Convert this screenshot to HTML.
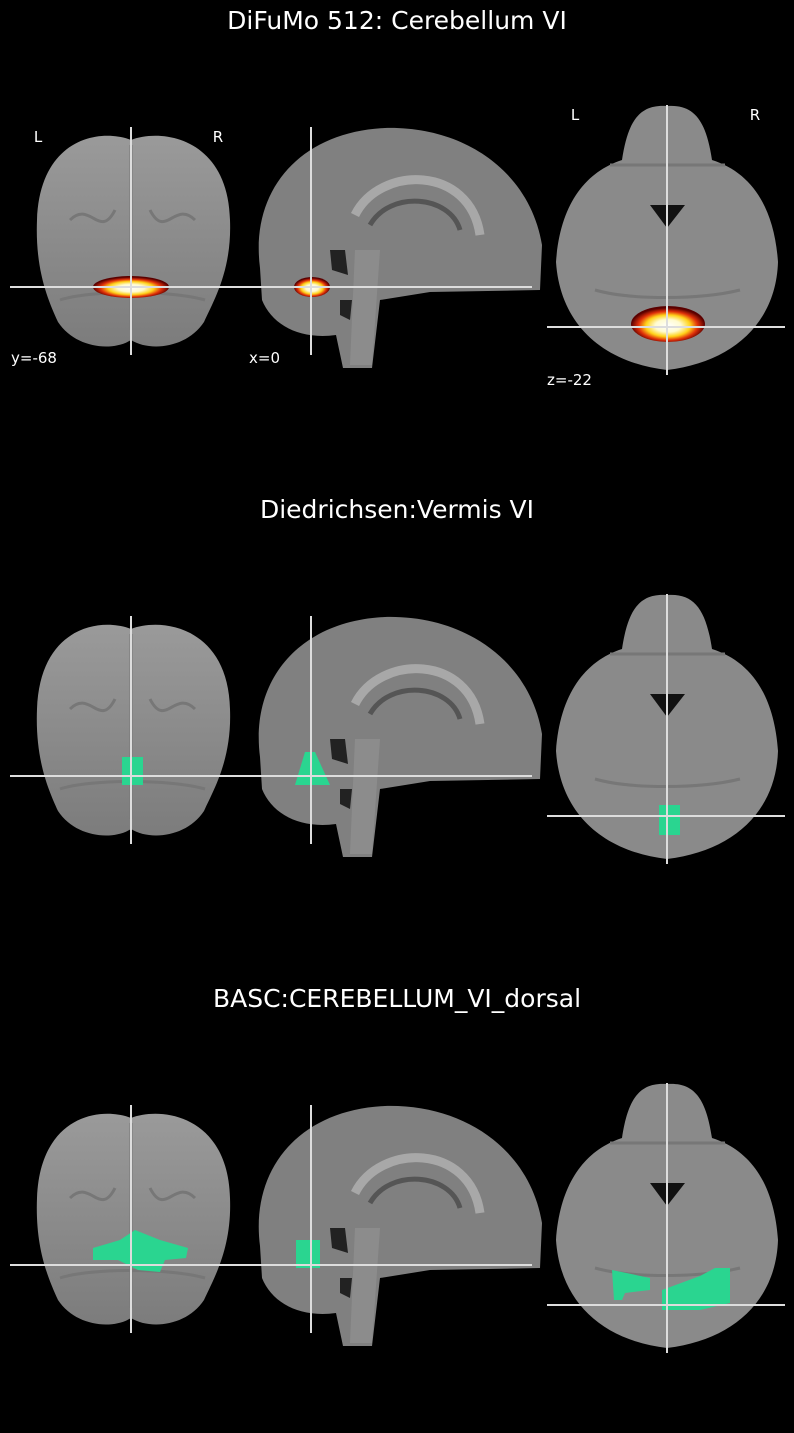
<!DOCTYPE html>
<html><head><meta charset="utf-8"><style>
html,body{margin:0;padding:0;background:#000;}
svg{display:block;}
text{font-family:"DejaVu Sans","Liberation Sans",sans-serif;fill:#fff;}
</style></head><body>
<svg id="fig" width="794" height="1433" viewBox="0 0 794 1433">
<defs>
<radialGradient id="fire" cx="50%" cy="55%" r="50%">
<stop offset="0" stop-color="#fff"/><stop offset="0.35" stop-color="#fffbd0"/>
<stop offset="0.6" stop-color="#ffd21a"/><stop offset="0.8" stop-color="#e0300a"/>
<stop offset="1" stop-color="#5a0000"/></radialGradient>
<linearGradient id="grayv" x1="0" y1="0" x2="0" y2="1">
<stop offset="0" stop-color="#9a9a9a"/><stop offset="1" stop-color="#7c7c7c"/></linearGradient>
</defs>
<rect width="794" height="1433" fill="#000"/>
</svg>
<script>
const titles=["DiFuMo 512: Cerebellum VI","Diedrichsen:Vermis VI","BASC:CEREBELLUM_VI_dorsal"];
const offsets=[0,489,978];
const NS="http://www.w3.org/2000/svg";
const svg=document.getElementById('fig');
function mk(tag,attrs,parent){const e=document.createElementNS(NS,tag);for(const k in attrs)e.setAttribute(k,attrs[k]);(parent||svg).appendChild(e);return e;}
const coronal="M131,140 C100,128 40,138 37,220 C35,270 48,300 58,322 C75,348 112,352 131,340 C150,352 187,348 204,322 C214,300 232,270 230,220 C228,138 162,128 131,140 Z";
const sagittal="M260,268 C250,190 300,132 385,128 C465,126 530,172 542,245 L540,290 L430,292 L380,300 L372,368 L343,368 L336,335 C300,340 272,325 262,300 Z";
const axial="M667,106 C640,104 628,120 622,160 C585,172 560,205 556,262 C560,322 600,362 667,370 C734,362 776,322 778,262 C774,205 750,172 712,160 C706,120 694,104 667,106 Z";
titles.forEach((t,i)=>{
 const g=mk('g',{transform:'translate(0,'+offsets[i]+')'});
 
 
 const tt=mk('text',{x:397,y:29,'font-size':25,'text-anchor':'middle'},g);tt.textContent=t;
 
 
 const c=mk('path',{d:coronal,fill:'url(#grayv)'},g);
 
 mk('path',{d:"M131,145 L131,330 M60,300 C90,290 170,290 205,300 M70,220 C90,200 100,240 115,210 M150,210 C165,240 175,200 195,220",stroke:'#777','stroke-width':3,fill:'none'},g);
 const s=mk('path',{d:sagittal,fill:'#808080'},g);
 
 mk('path',{d:"M355,215 C380,165 470,165 480,235",stroke:'#a8a8a8','stroke-width':9,fill:'none'},g);
 mk('path',{d:"M370,225 C390,190 450,195 460,230",stroke:'#555','stroke-width':5,fill:'none'},g);
 mk('path',{d:"M330,250 L345,250 L348,275 L332,270 Z M340,300 L352,300 L350,320 L340,315 Z",fill:'#222'},g);
 mk('path',{d:"M355,250 L380,250 L372,365 L350,365 Z",fill:'#8c8c8c'},g);
 const a=mk('path',{d:axial,fill:'#8a8a8a'},g);
 
 mk('path',{d:"M650,205 L685,205 L667,228 Z",fill:'#111'},g);
 mk('path',{d:"M610,165 L725,165 M595,290 C630,300 700,300 740,290",stroke:'#777','stroke-width':3,fill:'none'},g);
 if(i===0){
  mk('ellipse',{cx:131,cy:287,rx:38,ry:11,fill:'url(#fire)'},g);
  mk('ellipse',{cx:312,cy:287,rx:18,ry:10,fill:'url(#fire)'},g);
  mk('ellipse',{cx:668,cy:324,rx:37,ry:18,fill:'url(#fire)'},g);
 } else if(i===1){
  mk('rect',{x:122,y:268,width:21,height:28,fill:'#2ad590'},g);
  mk('path',{d:"M305,263 L315,263 L330,296 L295,296 Z",fill:'#2ad590'},g);
  mk('rect',{x:659,y:316,width:21,height:30,fill:'#2ad590'},g);
 } else {
  mk('path',{d:"M93,270 L120,262 L135,252 L160,262 L188,270 L186,280 L165,282 L160,294 L138,292 L118,282 L93,282 Z",fill:'#2ad590'},g);
  mk('rect',{x:296,y:262,width:24,height:28,fill:'#2ad590'},g);
  mk('path',{d:"M612,292 L650,300 L650,312 L625,315 L622,322 L614,322 Z",fill:'#2ad590'},g);
  mk('path',{d:"M662,312 L700,298 L715,290 L730,290 L730,325 L700,332 L662,332 Z",fill:'#2ad590'},g);
 }
 mk('path',{d:"M131,127 L131,355 M10,287 L250,287 M311,127 L311,355 M250,287 L532,287 M667,105 L667,375 M547,327 L785,327",stroke:'#ddd','stroke-width':2,fill:'none'},g);
 if(i===0){
  [["L",38,142],["R",218,142],["L",575,120],["R",755,120],["y=-68",11,363],["x=0",249,363],["z=-22",547,385]].forEach(l=>{
   const e=mk('text',{x:l[1],y:l[2],'font-size':15,'text-anchor':l[0].length==1?'middle':'start'},g);e.textContent=l[0];
   
   
  });
 }
});
</script>
</body></html>
